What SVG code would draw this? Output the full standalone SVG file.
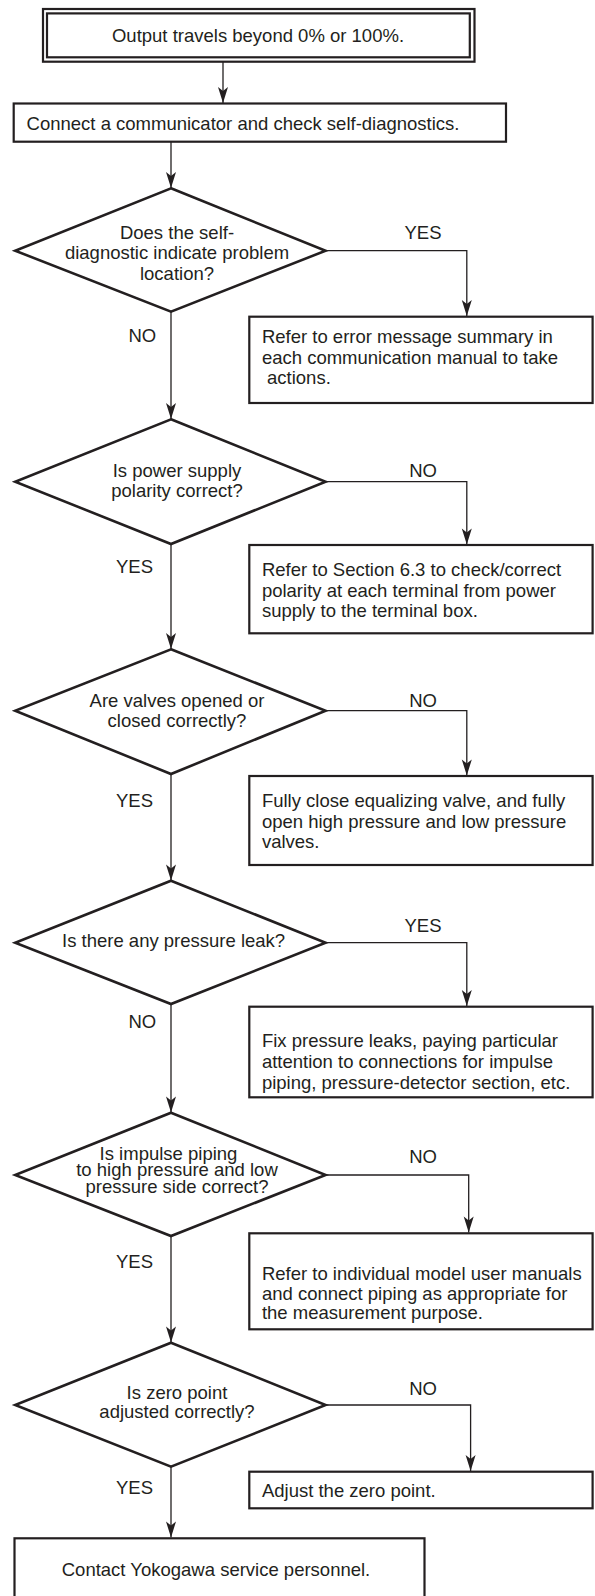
<svg xmlns="http://www.w3.org/2000/svg" width="595" height="1596" viewBox="0 0 595 1596">
<defs>
<marker id="ah" markerUnits="userSpaceOnUse" markerWidth="18" markerHeight="12" viewBox="-17 -6 18 12" refX="0" refY="0" orient="auto">
<path d="M0,0 L-16,-5 L-12,0 L-16,5 Z" fill="#231f20"/>
</marker>
</defs>
<style>
.box{fill:#fff;stroke:#231f20;stroke-width:2.2}
.dia{fill:#fff;stroke:#231f20;stroke-width:2.6;stroke-linejoin:miter}
.con{fill:none;stroke:#231f20;stroke-width:1.3;marker-end:url(#ah)}
text{font-family:"Liberation Sans",Arial,sans-serif;font-size:18.5px;fill:#231f20}
.c{text-anchor:middle}
</style>
<rect width="595" height="1596" fill="#fff"/>
<g id="connectors">
<path class="con" d="M223,61.7 V103"/>
<path class="con" d="M171,141.7 V188"/>
<path class="con" d="M325.6,250.7 H466.8 V316"/>
<path class="con" d="M171,311.7 V419"/>
<path class="con" d="M325.6,481.7 H466.8 V544.5"/>
<path class="con" d="M171,544 V649"/>
<path class="con" d="M325.6,710.7 H466.8 V775.5"/>
<path class="con" d="M171,774 V880.5"/>
<path class="con" d="M325.6,942.7 H466.8 V1006"/>
<path class="con" d="M171,1004 V1112.5"/>
<path class="con" d="M325.6,1175 H468.7 V1232.5"/>
<path class="con" d="M171,1236 V1342.5"/>
<path class="con" d="M325.6,1405 H470.6 V1471"/>
<path class="con" d="M171,1466.7 V1537.5"/>
<text class="c" x="423" y="239.3">YES</text>
<text class="c" x="142.3" y="341.7">NO</text>
<text class="c" x="423" y="477.3">NO</text>
<text class="c" x="134.5" y="573.3">YES</text>
<text class="c" x="423" y="706.7">NO</text>
<text class="c" x="134.5" y="806.7">YES</text>
<text class="c" x="423" y="931.7">YES</text>
<text class="c" x="142.3" y="1028.3">NO</text>
<text class="c" x="423" y="1163.3">NO</text>
<text class="c" x="134.5" y="1268.3">YES</text>
<text class="c" x="423" y="1395">NO</text>
<text class="c" x="134.5" y="1494">YES</text>
</g>
<g id="start">
<rect class="box" x="43" y="9" width="431.5" height="52.7"/>
<rect class="box" x="47" y="13.4" width="422.8" height="43.9"/>
<text class="c" x="258" y="42.3">Output travels beyond 0% or 100%.</text>
</g>
<g id="connect">
<rect class="box" x="13.7" y="103.5" width="492.3" height="38.2"/>
<text x="26.6" y="130">Connect a communicator and check self-diagnostics.</text>
</g>
<g id="q1">
<polygon class="dia" points="171,188.3 325.6,250.7 171,311.7 15.2,250.7"/>
<text class="c" x="177" y="239.3">Does the self-</text>
<text class="c" x="177" y="259.3">diagnostic indicate problem</text>
<text class="c" x="177" y="280">location?</text>
</g>
<g id="a1">
<rect class="box" x="249.3" y="316.7" width="343.3" height="86.3"/>
<text x="261.9" y="343.3">Refer to error message summary in</text>
<text x="261.9" y="364">each communication manual to take</text>
<text x="261.9" y="384" xml:space="preserve"> actions.</text>
</g>
<g id="q2">
<polygon class="dia" points="171,419.3 325.6,481.7 171,544 15.2,481.7"/>
<text class="c" x="177" y="477.3">Is power supply</text>
<text class="c" x="177" y="497.3">polarity correct?</text>
</g>
<g id="a2">
<rect class="box" x="249.3" y="545" width="343.3" height="88.3"/>
<text x="261.9" y="575.7">Refer to Section 6.3 to check/correct</text>
<text x="261.9" y="596.7">polarity at each terminal from power</text>
<text x="261.9" y="617.3">supply to the terminal box.</text>
</g>
<g id="q3">
<polygon class="dia" points="171,649.3 325.6,710.7 171,774 15.2,710.7"/>
<text class="c" x="177" y="706.7">Are valves opened or</text>
<text class="c" x="177" y="727.3">closed correctly?</text>
</g>
<g id="a3">
<rect class="box" x="249.3" y="776" width="343.3" height="89"/>
<text x="261.9" y="807.3">Fully close equalizing valve, and fully</text>
<text x="261.9" y="828.3">open high pressure and low pressure</text>
<text x="261.9" y="848.3">valves.</text>
</g>
<g id="q4">
<polygon class="dia" points="171,880.7 325.6,942.7 171,1004 15.2,942.7"/>
<text class="c" x="173.6" y="947.3">Is there any pressure leak?</text>
</g>
<g id="a4">
<rect class="box" x="249.3" y="1006.7" width="343.3" height="90.6"/>
<text x="261.9" y="1047.3">Fix pressure leaks, paying particular</text>
<text x="261.9" y="1068.3">attention to connections for impulse</text>
<text x="261.9" y="1089.3">piping, pressure-detector section, etc.</text>
</g>
<g id="q5">
<polygon class="dia" points="171,1112.7 325.6,1175 171,1236 15.2,1175"/>
<text class="c" x="168.5" y="1160">Is impulse piping</text>
<text class="c" x="177" y="1176">to high pressure and low</text>
<text class="c" x="177" y="1192.7">pressure side correct?</text>
</g>
<g id="a5">
<rect class="box" x="249.3" y="1233.3" width="343.3" height="96"/>
<text x="261.9" y="1280">Refer to individual model user manuals</text>
<text x="261.9" y="1300">and connect piping as appropriate for</text>
<text x="261.9" y="1319.3">the measurement purpose.</text>
</g>
<g id="q6">
<polygon class="dia" points="171,1342.7 325.6,1405 171,1466.7 15.2,1405"/>
<text class="c" x="177" y="1399.3">Is zero point</text>
<text class="c" x="177" y="1418.3">adjusted correctly?</text>
</g>
<g id="a6">
<rect class="box" x="249.3" y="1471.7" width="343.3" height="36.6"/>
<text x="261.9" y="1496.7">Adjust the zero point.</text>
</g>
<g id="end">
<rect class="box" x="14.5" y="1538.3" width="410" height="70"/>
<text class="c" x="216" y="1576">Contact Yokogawa service personnel.</text>
</g>
</svg>
